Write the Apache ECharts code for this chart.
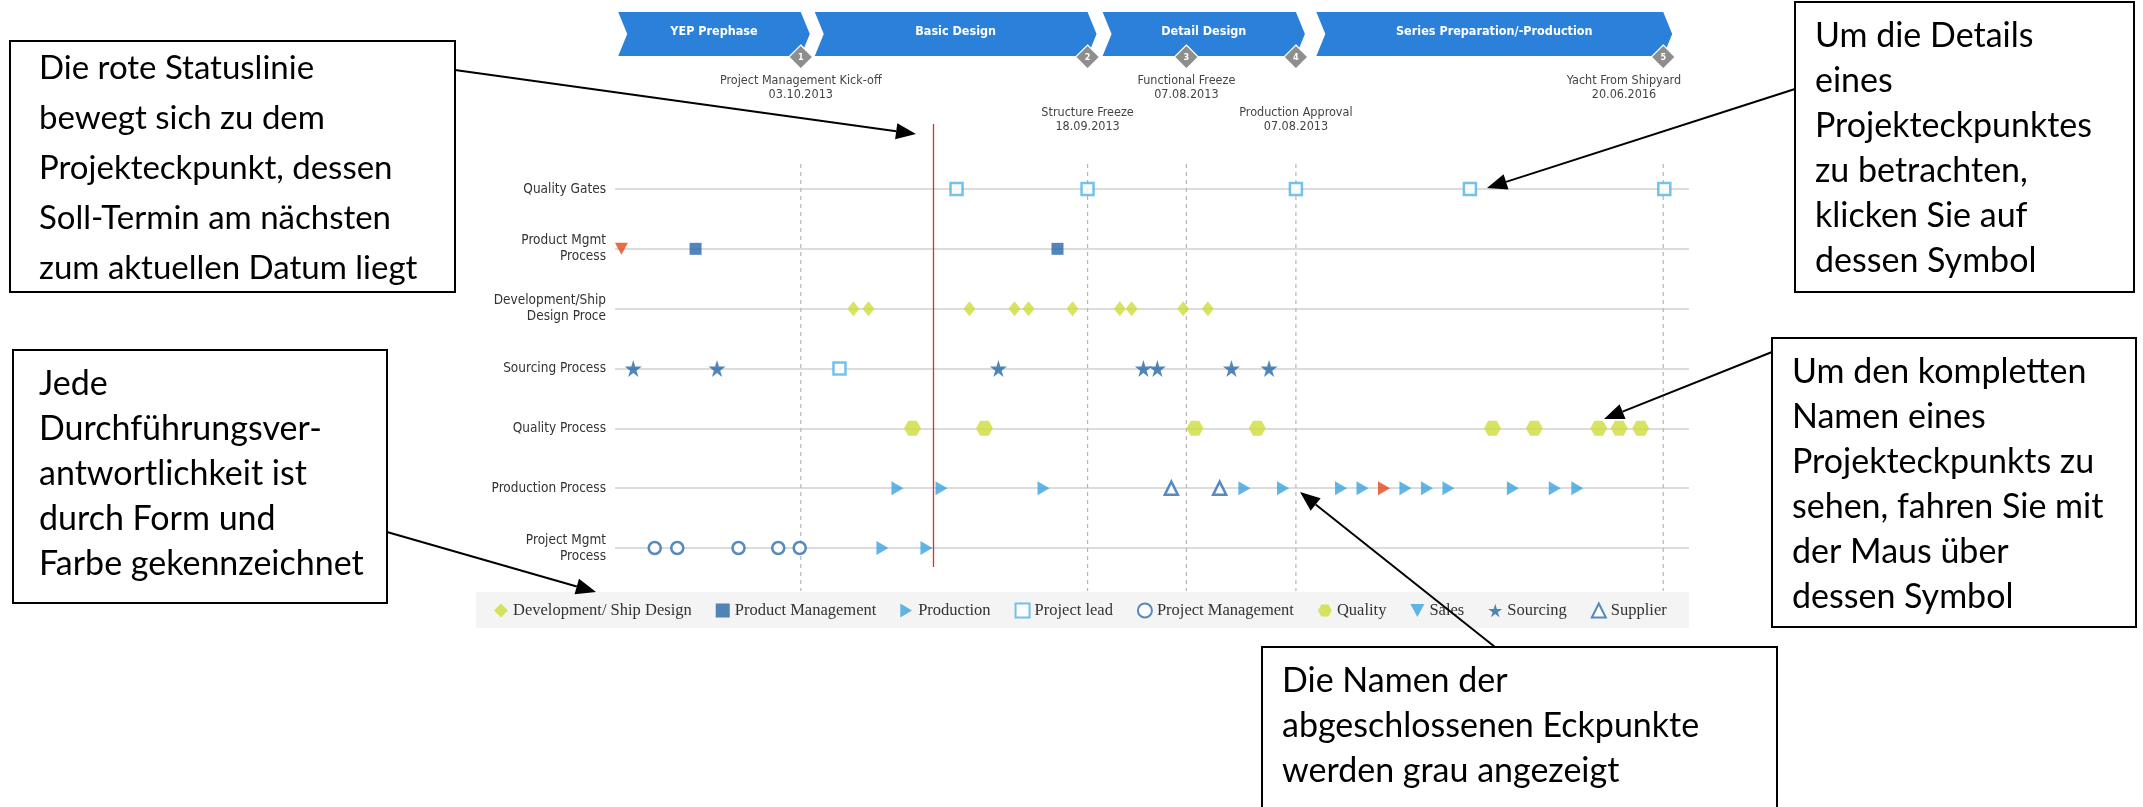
<!DOCTYPE html>
<html><head><meta charset="utf-8">
<script src="https://cdn.jsdelivr.net/npm/echarts@6/dist/echarts.min.js"></script>
<style>html,body{margin:0;padding:0;background:#fff}#c{width:2143px;height:807px}</style>
</head><body><div id="c"></div><script>
// ---------------- data ----------------
const rowLabels = ['Quality Gates','Product Mgmt\nProcess','Development/Ship\nDesign Proce','Sourcing Process','Quality Process','Production Process','Project Mgmt\nProcess'];
const phaseNames = ['YEP Prephase','Basic Design','Detail Design','Series Preparation/-Production'];
const phaseStart = [0.3, 18.6, 45.4, 65.3];
const phaseEnd   = [17.3, 44.0, 63.4, 97.6];
const milestoneNo    = ['1','2','3','4','5'];
const milestoneNames = ['Project Management Kick-off','Structure Freeze','Functional Freeze','Production Approval','Yacht From Shipyard'];
const milestoneDates = ['03.10.2013','18.09.2013','07.08.2013','07.08.2013','20.06.2016'];
const milestonePos   = [17.3, 44.0, 53.2, 63.4, 97.6];
const milestoneLevel = [0, 1, 0, 1, 0];
const statusLinePos  = 29.6;

const legendNames = ['Development/ Ship Design','Product Management','Production','Project lead','Project Management','Quality','Sales','Sourcing','Supplier'];
// milestone positions per responsibility and process row
const devShipDesignX   = [22.2, 23.6, 33.0, 37.2, 38.5, 42.6, 47.0, 48.1, 52.9, 55.2];          // Development/Ship Design Process
const productMgmtX     = [7.5, 41.2];                                                             // Product Mgmt Process
const productionX      = [26.3, 30.4, 39.9, 58.6, 62.2, 67.6, 69.6, 71.6, 73.6, 75.6, 77.6, 83.6, 87.5, 89.6]; // Production Process
const productionPmX    = [24.9, 29.0];                                                            // Project Mgmt Process
const projectLeadQgX   = [31.8, 44.0, 63.4, 79.6, 97.7];                                          // Quality Gates
const projectLeadSrcX  = [20.9];                                                                  // Sourcing Process
const projectMgmtX     = [3.7, 5.8, 11.5, 15.2, 17.2];                                            // Project Mgmt Process
const qualityX         = [27.7, 34.4, 54.0, 59.8, 81.7, 85.6, 91.6, 93.5, 95.5];                  // Quality Process
const salesX           = [0.6];                                                                   // Product Mgmt Process
const sourcingX        = [1.7, 9.5, 35.7, 49.2, 50.5, 57.4, 60.9];                                // Sourcing Process
const supplierX        = [51.8, 56.3];                                                            // Production Process
const overdueSales      = [0.6];
const overdueProduction = [71.6];

const calloutTexts = [
  'Die rote Statuslinie\nbewegt sich zu dem\nProjekteckpunkt, dessen\nSoll-Termin am nächsten\nzum aktuellen Datum liegt',
  'Um die Details\neines\nProjekteckpunktes\nzu betrachten,\nklicken Sie auf\ndessen Symbol',
  'Jede\nDurchführungsver-\nantwortlichkeit ist\ndurch Form und\nFarbe gekennzeichnet',
  'Um den kompletten\nNamen eines\nProjekteckpunkts zu\nsehen, fahren Sie mit\nder Maus über\ndessen Symbol',
  'Die Namen der\nabgeschlossenen Eckpunkte\nwerden grau angezeigt'
];

// ---------------- layout / style ----------------
const FONT = "'DejaVu Sans Condensed','Liberation Sans',sans-serif";
const GREEN = '#cddc39', DARK = '#2767a9', LIGHT = '#3ba4e0', LEAD = '#4fb3ea', RED = '#e2471d';
const PHASE_TOP = 12, PHASE_BOT = 56, TIP = 9;
const calloutBoxes = [
  {x: 10,   y: 41,  w: 445, h: 251, px: 29, py: 2,  lh: 50, fs: 33},
  {x: 1795, y: 2,   w: 339, h: 290, px: 20, py: 12, lh: 45, fs: 34},
  {x: 13,   y: 350, w: 374, h: 253, px: 26, py: 12, lh: 45, fs: 34},
  {x: 1772, y: 338, w: 364, h: 289, px: 20, py: 12, lh: 45, fs: 34},
  {x: 1262, y: 647, w: 515, h: 175, px: 20, py: 12, lh: 45, fs: 34}
];
const arrows = [
  [455, 70, 916, 134],
  [1795, 89, 1487, 188],
  [387, 532, 596, 592],
  [1772, 352, 1604, 419],
  [1495, 647, 1300, 492]
];

const HEX  = 'path://M5,0 L15,0 L20,8.66 L15,17.32 L5,17.32 L0,8.66 Z';
const STAR = 'path://M50,0 L61,35 L98,35 L68,57 L79,91 L50,70 L21,91 L32,57 L2,35 L39,35 Z';
const RTRI = 'path://M0,0 L10,6 L0,12 Z';
const DTRI = 'path://M0,0 L12,0 L6,11 Z';

function pts(xs, row, late) {
  return xs.map(x => {
    const d = {value: [x, rowLabels[row]]};
    if (late && late.indexOf(x) >= 0) d.itemStyle = {color: RED};
    return d;
  });
}

const chart = echarts.init(document.getElementById('c'), null, {renderer: 'canvas'});

const scatterSeries = [
  {name: legendNames[0], symbol: 'diamond', symbolSize: [12, 15], itemStyle: {color: GREEN},
   data: pts(devShipDesignX, 2)},
  {name: legendNames[1], symbol: 'rect', symbolSize: 12, itemStyle: {color: DARK},
   data: pts(productMgmtX, 1)},
  {name: legendNames[2], symbol: RTRI, symbolSize: [12, 14], itemStyle: {color: LIGHT},
   data: pts(productionX, 5, overdueProduction).concat(pts(productionPmX, 6))},
  {name: legendNames[3], symbol: 'rect', symbolSize: 12, itemStyle: {color: '#fff', borderColor: LEAD, borderWidth: 2.5},
   data: pts(projectLeadQgX, 0).concat(pts(projectLeadSrcX, 3))},
  {name: legendNames[4], symbol: 'circle', symbolSize: 12, itemStyle: {color: '#fff', borderColor: '#2c6db0', borderWidth: 2.5},
   data: pts(projectMgmtX, 6)},
  {name: legendNames[5], symbol: HEX, symbolSize: [17, 15], itemStyle: {color: GREEN},
   data: pts(qualityX, 4)},
  {name: legendNames[6], symbol: DTRI, symbolSize: [13, 12], itemStyle: {color: LIGHT},
   data: pts(salesX, 1, overdueSales)},
  {name: legendNames[7], symbol: STAR, symbolSize: 17, itemStyle: {color: DARK},
   data: pts(sourcingX, 3)},
  {name: legendNames[8], symbol: 'triangle', symbolSize: [13, 13], itemStyle: {color: '#fff', borderColor: '#2c6db0', borderWidth: 2.5},
   data: pts(supplierX, 5)}
].map(s => Object.assign({type: 'scatter', z: 3, clip: false}, s));

const legendIcons = ['diamond', 'rect', RTRI, 'rect', 'circle', HEX, DTRI, STAR, 'triangle'];

const phaseSeries = {
  type: 'custom', z: 1, silent: true, clip: false,
  encode: {x: [0, 1], y: 2},
  data: phaseNames.map((n, i) => [phaseStart[i], phaseEnd[i], 0]),
  renderItem(params, api) {
    const i = params.dataIndex;
    const x0 = api.coord([api.value(0), 0])[0];
    const x1 = api.coord([api.value(1), 0])[0];
    const mid = (PHASE_TOP + PHASE_BOT) / 2;
    return {type: 'group', children: [
      {type: 'polygon', shape: {points: [[x0, PHASE_TOP], [x1, PHASE_TOP], [x1 + TIP, mid], [x1, PHASE_BOT], [x0, PHASE_BOT], [x0 + TIP, mid]]},
       style: {fill: '#2b81d9'}},
      {type: 'text', style: {text: phaseNames[i], x: (x0 + x1) / 2 + TIP / 2, y: mid - 2, align: 'center', verticalAlign: 'middle',
        fill: '#fff', font: 'bold 12.5px ' + FONT}}
    ]};
  }
};

const milestoneSeries = {
  type: 'custom', z: 2, silent: true, clip: false,
  encode: {x: 0, y: 1},
  data: milestonePos.map(p => [p, 0]),
  renderItem(params, api) {
    const i = params.dataIndex;
    const cx = api.coord([api.value(0), 0])[0];
    const right = api.coord([100, 0])[0];
    const dy = 57, r = 12;
    const ly = milestoneLevel[i] === 0 ? 88 : 120;
    const clamp = cx + 66 > right;
    return {type: 'group', children: [
      {type: 'line', z2: 0, shape: {x1: cx, y1: 164, x2: cx, y2: 591},
       style: {stroke: '#b5b5b5', lineWidth: 1.2, lineDash: [4, 4]}},
      {type: 'polygon', z2: 2, shape: {points: [[cx, dy - r], [cx + r, dy], [cx, dy + r], [cx - r, dy]]},
       style: {fill: '#8e8e8e', stroke: '#ffffff', lineWidth: 1.2}},
      {type: 'text', z2: 3, style: {text: milestoneNo[i], x: cx, y: dy + 1, align: 'center', verticalAlign: 'middle',
        fill: '#fff', font: 'bold 9px ' + FONT}},
      {type: 'text', z2: 3, style: {text: milestoneNames[i] + '\n' + milestoneDates[i], x: clamp ? right - 65 : cx, y: ly,
        align: 'center', verticalAlign: 'middle', fill: '#444', font: '12.5px ' + FONT, lineHeight: 14}}
    ]};
  }
};

const statusSeries = {
  type: 'custom', z: 6, silent: true, clip: false,
  encode: {x: 0, y: 1},
  data: [[statusLinePos, 0]],
  renderItem(params, api) {
    const cx = Math.round(api.coord([api.value(0), 0])[0]) + 0.5;
    return {type: 'line', shape: {x1: cx, y1: 124, x2: cx, y2: 567}, style: {stroke: '#e52b2b', lineWidth: 1.3}};
  }
};

// graphic: legend background, callout boxes, arrows
const graphics = [
  {type: 'rect', z: -10, silent: true, shape: {x: 476, y: 592, width: 1213, height: 36}, style: {fill: '#f4f4f4'}}
];
calloutBoxes.forEach((b, i) => {
  graphics.push({type: 'rect', z: 100, silent: true, shape: {x: b.x, y: b.y, width: b.w, height: b.h},
    style: {fill: '#fff', stroke: '#000', lineWidth: 2}});
  graphics.push({type: 'text', z: 101, silent: true, x: b.x + b.px, y: b.y + b.py,
    style: {text: calloutTexts[i], font: b.fs + "px Lato, 'Open Sans', sans-serif", fill: '#000', lineHeight: b.lh,
      verticalAlign: 'top', align: 'left'}});
});
arrows.forEach(a => {
  const [sx, sy, tx, ty] = a;
  const dx = tx - sx, dy = ty - sy, len = Math.hypot(dx, dy);
  const ux = dx / len, uy = dy / len, nx = -uy, ny = ux;
  const L = 20, W = 8;
  const bx = tx - ux * L, by = ty - uy * L;
  graphics.push({type: 'line', z: 102, silent: true, shape: {x1: sx, y1: sy, x2: bx, y2: by}, style: {stroke: '#000', lineWidth: 2}});
  graphics.push({type: 'polygon', z: 102, silent: true, shape: {points: [[tx, ty], [bx + nx * W, by + ny * W], [bx - nx * W, by - ny * W]]},
    style: {fill: '#000'}});
});

chart.setOption({
  animation: false,
  backgroundColor: '#fff',
  textStyle: {fontFamily: FONT},
  grid: {left: 615, right: 454, top: 189, height: 359, containLabel: false},
  xAxis: {type: 'value', min: 0, max: 100, show: false, splitLine: {show: false}},
  yAxis: {
    type: 'category', data: rowLabels, inverse: true, boundaryGap: false,
    axisLine: {show: false}, axisTick: {show: false},
    axisLabel: {interval: 0, margin: 9, fontSize: 13.5, color: '#333', lineHeight: 16, fontFamily: FONT},
    splitLine: {show: true, interval: 0, lineStyle: {color: '#dcdcdc', width: 2}}
  },
  legend: {
    left: 494, top: 602, itemGap: 24, itemWidth: 14, itemHeight: 14, padding: 0,
    textStyle: {fontFamily: "'Liberation Serif','Times New Roman',serif", fontSize: 16.5, color: '#333'},
    data: legendNames.map((n, i) => ({name: n, icon: legendIcons[i]}))
  },
  graphic: {elements: graphics},
  series: [phaseSeries, milestoneSeries].concat(scatterSeries).concat([statusSeries])
});
</script></body></html>
